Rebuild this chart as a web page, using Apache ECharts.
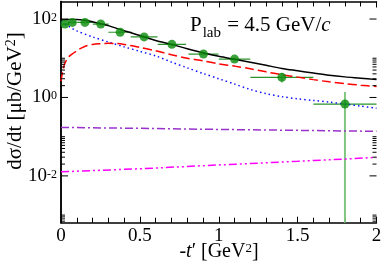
<!DOCTYPE html>
<html><head><meta charset="utf-8">
<script src="https://cdn.jsdelivr.net/npm/echarts@6/dist/echarts.min.js"></script>
<style>html,body{margin:0;padding:0;background:#fff}#c{width:382px;height:265px}</style>
</head><body><div id="c"></div>
<script>
// ---- data ----
const tTotal = [0,0.05,0.1,0.15,0.2,0.3,0.4,0.5,0.6,0.7,0.8,0.9,1.0,1.1,1.2,1.3,1.4,1.5,1.6,1.7,1.8,1.9,2.0];
const totalVals = [94,97,97,93,85,68,50,38,28.5,22.6,17.5,13.8,11.2,9.4,7.9,6.6,5.5,4.8,4.2,3.7,3.35,3.1,2.85];
const tRed = [0,0.01,0.025,0.05,0.1,0.15,0.2,0.25,0.3,0.35,0.4,0.5,0.6,0.7,0.8,0.9,1.0,1.1,1.2,1.3,1.4,1.5,1.6,1.7,1.8,1.9,2.0];
const redVals = [2.6,4.5,7.5,11,15.5,20,22.5,23.5,24,23.8,22.5,19,15.5,12.3,10,8.6,7.2,6.3,5.4,4.5,3.8,3.3,2.85,2.5,2.25,2.05,1.9];
const tBlue = [0,0.05,0.1,0.2,0.3,0.4,0.5,0.6,0.7,0.8,0.9,1.0,1.1,1.2,1.3,1.4,1.5,1.6,1.7,1.8,1.9,2.0];
const blueVals = [86,65,50,35,26,19.5,15,11.5,8,5.7,4.1,3,2.2,1.6,1.25,1.05,0.92,0.84,0.76,0.68,0.6,0.53];
const tFlat = [0,0.5,1,1.5,2];
const purpleVals = [0.172,0.163,0.153,0.145,0.137];
const magentaVals = [0.0127,0.0152,0.019,0.0235,0.0296];
const dataT = [0.025,0.072,0.152,0.252,0.375,0.527,0.703,0.903,1.10,1.40,1.80];
const dataVals = [74.5,82,82,74.5,46,35,22.6,12.8,9.5,3.26,0.68];
const dataTErr = [0.025,0.025,0.05,0.05,0.075,0.085,0.09,0.095,0.1,0.2,0.2];
const dataLo = [69,76,76,69,42.5,32.3,20.9,11.8,8.8,2.4,0.00001];
const dataHi = [80,88,88,80,49.5,37.7,24.3,13.8,10.2,4.2,1.38];
const xTicks = [0,0.5,1,1.5,2];
const yMajorTicks = [1e-2, 1, 1e2];
const yMinorTicks = [7e-4,8e-4,9e-4,1e-3, 0.02,0.03,0.04,0.05,0.06,0.07,0.08,0.09,0.1, 2,3,4,5,6,7,8,9,10];

const FONT = 'Liberation Serif';
const zip = (a,b)=>a.map((v,i)=>[v,b[i]]);
const chart = echarts.init(document.getElementById('c'));
const yMin = 6.4e-4, yMax = 280;
function yFmt(v){
  const e = Math.log10(v);
  const r = Math.round(e);
  if (Math.abs(e-r) > 1e-6 || yMajorTicks.indexOf(Math.pow(10,r)) < 0) return '';
  return '{b|10}{s|' + r + '}';
}
const yLabel = {
  fontFamily: FONT, color:'#000', margin: 4, formatter: yFmt,
  rich: {
    b: {fontFamily: FONT, fontSize: 19, lineHeight: 19, padding:[10,0,0,0], verticalAlign:'bottom', color:'#000'},
    s: {fontFamily: FONT, fontSize: 12, lineHeight: 12, padding:[2,0,0,0], verticalAlign:'top', color:'#000'}
  }
};
const errData = dataT.map((t,i)=>[t, dataVals[i], t-dataTErr[i], t+dataTErr[i], dataLo[i], dataHi[i]]);
const tickData = yMajorTicks.map(v=>[v,7]).concat(yMinorTicks.map(v=>[v,4]));
chart.setOption({
  animation:false,
  grid:{left:61, right:5.5, top:1.5, bottom:42.3, outerBoundsMode:'none', containLabel:false},
  xAxis:[{
    type:'value', min:0, max:2, interval:0.5,
    axisLine:{lineStyle:{color:'#000', width:1.5}},
    axisTick:{inside:true, length:6, lineStyle:{color:'#000', width:1}},
    minorTick:{show:true, splitNumber:5, length:5, lineStyle:{color:'#000', width:1}},
    splitLine:{show:false},
    axisLabel:{fontFamily:FONT, fontSize:19, color:'#000', margin:4,
      formatter: v => (xTicks.indexOf(v) >= 0 ? String(v) : '')}
  },{
    type:'value', min:0, max:2, interval:0.5, position:'top',
    axisLine:{lineStyle:{color:'#000', width:1.5}},
    axisTick:{inside:true, length:6, lineStyle:{color:'#000'}},
    minorTick:{show:true, splitNumber:5, length:5, lineStyle:{color:'#000'}},
    splitLine:{show:false}, axisLabel:{show:false}
  }],
  yAxis:[{
    type:'log', logBase:10, min:yMin, max:yMax,
    axisLine:{lineStyle:{color:'#000', width:1.5}},
    axisTick:{show:false},
    splitLine:{show:false},
    axisLabel: yLabel
  },{
    type:'log', logBase:10, min:yMin, max:yMax, position:'right',
    axisLine:{lineStyle:{color:'#000', width:1.5}},
    axisTick:{show:false},
    splitLine:{show:false}, axisLabel:{show:false}
  }],
  graphic:[{
    type:'text', x:190, y:25,
    style:{
      text:'{p|P}{sub|lab}{p| = 4.5 GeV/}{i|c}', verticalAlign:'middle',
      rich:{
        p:{fontFamily:FONT, fontSize:21, color:'#000', lineHeight:21, verticalAlign:'top'},
        i:{fontFamily:FONT, fontSize:21, fontStyle:'italic', color:'#000', lineHeight:21, verticalAlign:'top'},
        sub:{fontFamily:FONT, fontSize:15, color:'#000', lineHeight:15, padding:[11,1,0,1], verticalAlign:'top'}
      }
    }
  },{
    type:'text', x:219, y:252,
    style:{
      text:'{m|-}{i|t}{m|′ [GeV}{s|2}{m|]}', align:'center', verticalAlign:'middle',
      rich:{
        m:{fontFamily:FONT, fontSize:20, color:'#000', lineHeight:20, padding:[5,0,0,0], verticalAlign:'bottom'},
        i:{fontFamily:FONT, fontSize:20, fontStyle:'italic', color:'#000', lineHeight:20, padding:[5,0,0,0], verticalAlign:'bottom'},
        s:{fontFamily:FONT, fontSize:13, color:'#000', lineHeight:13, verticalAlign:'top'}
      }
    }
  },{
    type:'text', x:15, y:101, rotation:Math.PI/2,
    style:{
      text:'{m|dσ/dt [μb/GeV}{s|2}{m|]}', align:'center', verticalAlign:'middle',
      rich:{
        m:{fontFamily:FONT, fontSize:21, color:'#000', lineHeight:21, padding:[5,0,0,0], verticalAlign:'bottom'},
        s:{fontFamily:FONT, fontSize:14, color:'#000', lineHeight:14, verticalAlign:'top'}
      }
    }
  }],
  series:[
    {type:'custom', data:tickData, clip:false, silent:true, z:5,
      renderItem:function(params, api){
        const v = api.value(0), len = api.value(1);
        const l = api.coord([0, v]);
        const r = api.coord([2, v]);
        return {type:'group', children:[
          {type:'line', shape:{x1:l[0], y1:l[1], x2:l[0]+len, y2:l[1]}, style:{stroke:'#000', lineWidth:1}},
          {type:'line', shape:{x1:r[0], y1:r[1], x2:r[0]-len, y2:r[1]}, style:{stroke:'#000', lineWidth:1}}
        ]};
      }},
    {type:'line', data:zip(tFlat, magentaVals), symbol:'none', lineStyle:{color:'#ff00ff', width:1.5, type:[8,3,2,3,2,3]}},
    {type:'line', data:zip(tFlat, purpleVals), symbol:'none', lineStyle:{color:'#9932cc', width:1.5, type:[8,3,2,3]}},
    {type:'line', data:zip(tBlue, blueVals), symbol:'none', smooth:0.3, lineStyle:{color:'#1010ff', width:1.5, type:[1.5,3]}},
    {type:'line', data:zip(tRed, redVals), symbol:'none', smooth:0.3, lineStyle:{color:'#ff0000', width:1.5, type:[9,4]}},
    {type:'line', data:zip(tTotal, totalVals), symbol:'none', smooth:0.3, lineStyle:{color:'#000', width:1.5}},
    {type:'custom', data:errData, clip:true, z:3,
      renderItem:function(params, api){
        const c = api.coord([api.value(0), api.value(1)]);
        const l = api.coord([api.value(2), api.value(1)]);
        const r = api.coord([api.value(3), api.value(1)]);
        const lo = api.coord([api.value(0), api.value(4)]);
        const hi = api.coord([api.value(0), api.value(5)]);
        return {type:'group', children:[
          {type:'line', shape:{x1:l[0], y1:c[1], x2:r[0], y2:c[1]}, style:{stroke:'#2a922a', lineWidth:1.2}},
          {type:'line', shape:{x1:c[0], y1:lo[1], x2:c[0], y2:hi[1]}, style:{stroke:'#80c880', lineWidth:2}}
        ]};
      }},
    {type:'scatter', data:zip(dataT, dataVals), symbol:'circle', symbolSize:9, z:4,
      itemStyle:{color:'#0a8a0a'}}
  ]
});
</script></body></html>
